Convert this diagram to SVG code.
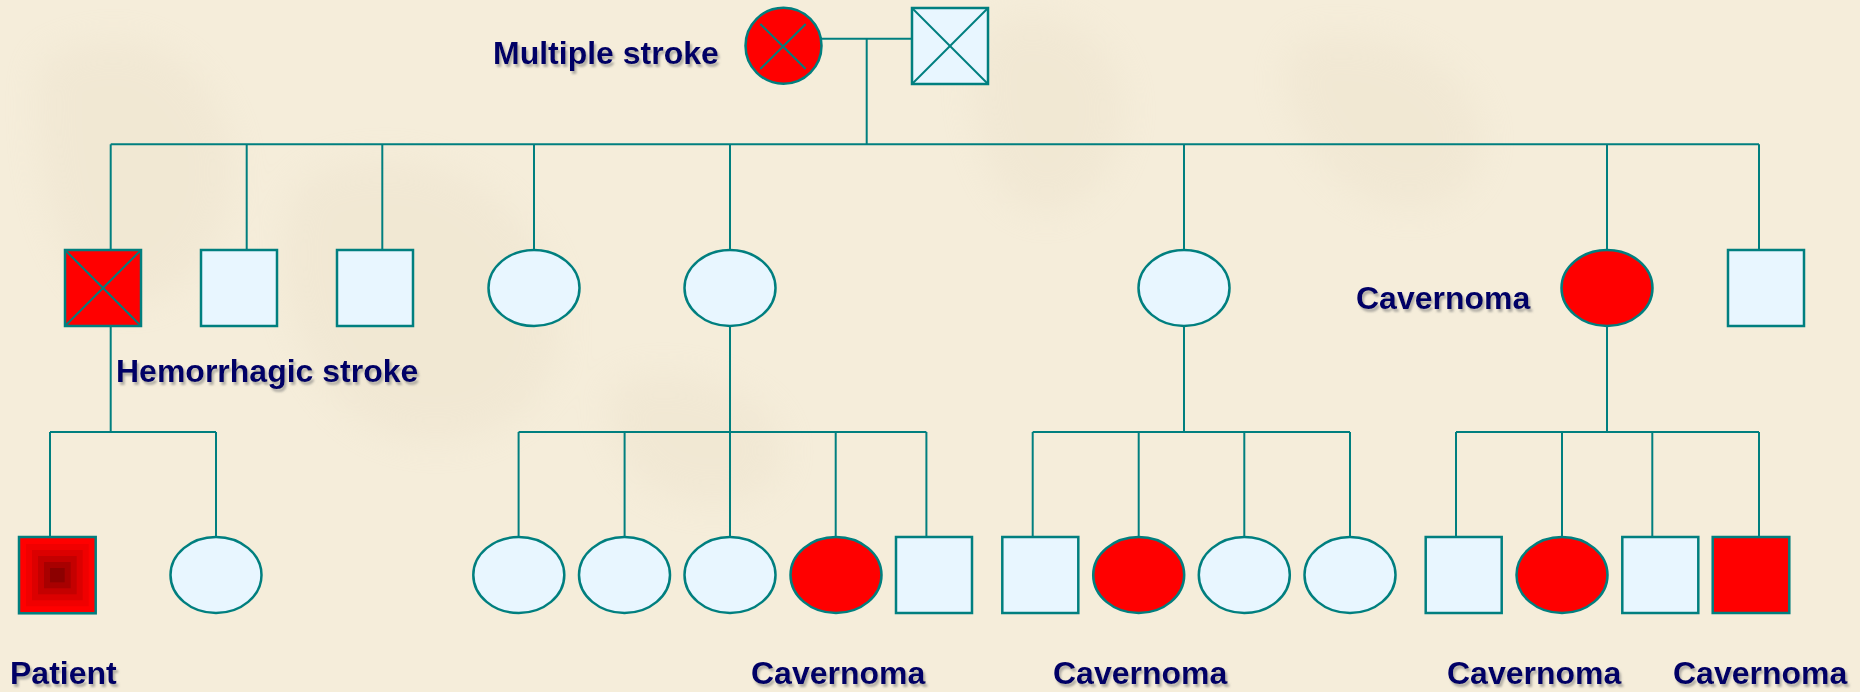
<svg xmlns="http://www.w3.org/2000/svg" width="1860" height="692" viewBox="0 0 1860 692">
<defs>
<style>
.ln{stroke:#007F7F;stroke-width:2;fill:none}
.sh{stroke:#007F7F;stroke-width:2.5}
.un{fill:#E8F6FF}
.af{fill:#FF0000}
.x{stroke:#007F7F;stroke-width:2;fill:none}
.lbl{font-family:"Liberation Sans",Arial,sans-serif;font-weight:bold;font-size:32px;fill:#000066;filter:url(#ds)}
</style>
<filter id="ds" x="-10%" y="-30%" width="130%" height="180%">
<feDropShadow dx="2" dy="3" stdDeviation="1.2" flood-color="#7a7a7a" flood-opacity="0.55"/>
</filter>
<filter id="blur" x="-20%" y="-20%" width="140%" height="140%"><feGaussianBlur stdDeviation="18"/></filter>
</defs>
<rect x="0" y="0" width="1860" height="692" fill="#F5EDDA"/>
<g id="bg" filter="url(#blur)" fill="#E8DDC6" opacity="0.3">
<path d="M40 60 C120 20 200 40 230 140 C250 230 180 320 110 300 C60 280 30 180 40 60 Z"/>
<path d="M300 180 C420 120 560 200 560 330 C560 430 440 470 360 420 C300 380 260 260 300 180 Z"/>
<path d="M1000 20 C1080 0 1140 60 1120 140 C1100 220 1020 240 990 170 C970 110 960 50 1000 20 Z"/>
<path d="M1300 40 C1400 20 1500 80 1480 160 C1460 230 1360 220 1320 160 C1290 120 1270 70 1300 40 Z"/>
<path d="M620 380 C700 360 800 400 780 470 C760 520 660 510 630 470 C610 440 600 400 620 380 Z"/>
</g>
<g id="connectors">
<line class="ln" x1="821" y1="38.7" x2="912" y2="38.7"/>
<line class="ln" x1="866.7" y1="38.7" x2="866.7" y2="144.3"/>
<line class="ln" x1="110.7" y1="144.3" x2="1759" y2="144.3"/>
<line class="ln" x1="110.7" y1="144.3" x2="110.7" y2="250"/>
<line class="ln" x1="246.7" y1="144.3" x2="246.7" y2="250"/>
<line class="ln" x1="382.3" y1="144.3" x2="382.3" y2="250"/>
<line class="ln" x1="534" y1="144.3" x2="534" y2="250"/>
<line class="ln" x1="730" y1="144.3" x2="730" y2="250"/>
<line class="ln" x1="1184" y1="144.3" x2="1184" y2="250"/>
<line class="ln" x1="1607" y1="144.3" x2="1607" y2="250"/>
<line class="ln" x1="1759" y1="144.3" x2="1759" y2="250"/>
<line class="ln" x1="110.7" y1="326" x2="110.7" y2="432"/>
<line class="ln" x1="50" y1="432" x2="216" y2="432"/>
<line class="ln" x1="50" y1="432" x2="50" y2="537"/>
<line class="ln" x1="216" y1="432" x2="216" y2="537"/>
<line class="ln" x1="730" y1="326" x2="730" y2="432"/>
<line class="ln" x1="518.6" y1="432" x2="926.4" y2="432"/>
<line class="ln" x1="518.6" y1="432" x2="518.6" y2="537"/>
<line class="ln" x1="624.6" y1="432" x2="624.6" y2="537"/>
<line class="ln" x1="730" y1="432" x2="730" y2="537"/>
<line class="ln" x1="835.7" y1="432" x2="835.7" y2="537"/>
<line class="ln" x1="926.4" y1="432" x2="926.4" y2="537"/>
<line class="ln" x1="1184" y1="326" x2="1184" y2="432"/>
<line class="ln" x1="1032.7" y1="432" x2="1350" y2="432"/>
<line class="ln" x1="1032.7" y1="432" x2="1032.7" y2="537"/>
<line class="ln" x1="1138.7" y1="432" x2="1138.7" y2="537"/>
<line class="ln" x1="1244.3" y1="432" x2="1244.3" y2="537"/>
<line class="ln" x1="1350" y1="432" x2="1350" y2="537"/>
<line class="ln" x1="1607" y1="326" x2="1607" y2="432"/>
<line class="ln" x1="1456" y1="432" x2="1759" y2="432"/>
<line class="ln" x1="1456" y1="432" x2="1456" y2="537"/>
<line class="ln" x1="1562" y1="432" x2="1562" y2="537"/>
<line class="ln" x1="1652.3" y1="432" x2="1652.3" y2="537"/>
<line class="ln" x1="1759" y1="432" x2="1759" y2="537"/>
</g>
<g id="g1-mother">
<circle class="sh af" cx="783.5" cy="45.7" r="38"/>
<line class="x" x1="760.3" y1="24" x2="805.7" y2="69"/>
<line class="x" x1="805.7" y1="24" x2="760.3" y2="69"/>
<text class="lbl" x="493" y="64">Multiple stroke</text>
</g>
<g id="g1-father">
<rect class="sh un" x="912" y="8" width="76" height="76"/>
<line class="x" x1="912" y1="8" x2="988" y2="84"/>
<line class="x" x1="988" y1="8" x2="912" y2="84"/>
</g>
<g id="g2-1">
<rect class="sh af" x="65" y="250" width="76" height="76"/>
<line class="x" x1="65" y1="250" x2="141" y2="326"/>
<line class="x" x1="141" y1="250" x2="65" y2="326"/>
<text class="lbl" x="116" y="382">Hemorrhagic stroke</text>
</g>
<g id="g2-2"><rect class="sh un" x="201" y="250" width="76" height="76"/></g>
<g id="g2-3"><rect class="sh un" x="337" y="250" width="76" height="76"/></g>
<g id="g2-4"><ellipse class="sh un" cx="534" cy="288" rx="45.5" ry="38"/></g>
<g id="g2-5"><ellipse class="sh un" cx="730" cy="288" rx="45.5" ry="38"/></g>
<g id="g2-6"><ellipse class="sh un" cx="1184" cy="288" rx="45.5" ry="38"/></g>
<g id="g2-7">
<ellipse class="sh af" cx="1607" cy="288" rx="45.5" ry="38"/>
<text class="lbl" x="1356" y="309">Cavernoma</text>
</g>
<g id="g2-8"><rect class="sh un" x="1728" y="250" width="76" height="76"/></g>
<g id="g3-patient">
<rect x="19" y="537" width="76.7" height="76.3" fill="#FF0000"/>
<rect x="26" y="544" width="62.7" height="62.3" fill="#F00000"/>
<rect x="32" y="550" width="50.7" height="50.3" fill="#DC0000"/>
<rect x="38" y="556" width="38.7" height="38.3" fill="#C40000"/>
<rect x="44" y="562" width="26.7" height="26.3" fill="#A80000"/>
<rect x="50" y="568" width="14.7" height="14.3" fill="#8C0000"/>
<rect x="19" y="537" width="76.7" height="76.3" fill="none" stroke="#007F7F" stroke-width="2.5"/>
<text class="lbl" x="10" y="684">Patient</text>
</g>
<g id="g3-2"><ellipse class="sh un" cx="216" cy="575" rx="45.5" ry="38"/></g>
<g id="g3-3"><ellipse class="sh un" cx="518.8" cy="575" rx="45.5" ry="38"/></g>
<g id="g3-4"><ellipse class="sh un" cx="624.5" cy="575" rx="45.5" ry="38"/></g>
<g id="g3-5"><ellipse class="sh un" cx="730" cy="575" rx="45.5" ry="38"/></g>
<g id="g3-6">
<ellipse class="sh af" cx="836" cy="575" rx="45.5" ry="38"/>
<text class="lbl" x="751" y="684">Cavernoma</text>
</g>
<g id="g3-7"><rect class="sh un" x="896" y="537" width="76" height="76"/></g>
<g id="g3-8"><rect class="sh un" x="1002.3" y="537" width="76" height="76"/></g>
<g id="g3-9">
<ellipse class="sh af" cx="1138.7" cy="575" rx="45.5" ry="38"/>
<text class="lbl" x="1053" y="684">Cavernoma</text>
</g>
<g id="g3-10"><ellipse class="sh un" cx="1244.3" cy="575" rx="45.5" ry="38"/></g>
<g id="g3-11"><ellipse class="sh un" cx="1350" cy="575" rx="45.5" ry="38"/></g>
<g id="g3-12"><rect class="sh un" x="1425.7" y="537" width="76" height="76"/></g>
<g id="g3-13">
<ellipse class="sh af" cx="1562" cy="575" rx="45.5" ry="38"/>
<text class="lbl" x="1447" y="684">Cavernoma</text>
</g>
<g id="g3-14"><rect class="sh un" x="1622.3" y="537" width="76" height="76"/></g>
<g id="g3-15">
<rect class="sh af" x="1712.7" y="537" width="76.6" height="76"/>
<text class="lbl" x="1673" y="684">Cavernoma</text>
</g>
</svg>
